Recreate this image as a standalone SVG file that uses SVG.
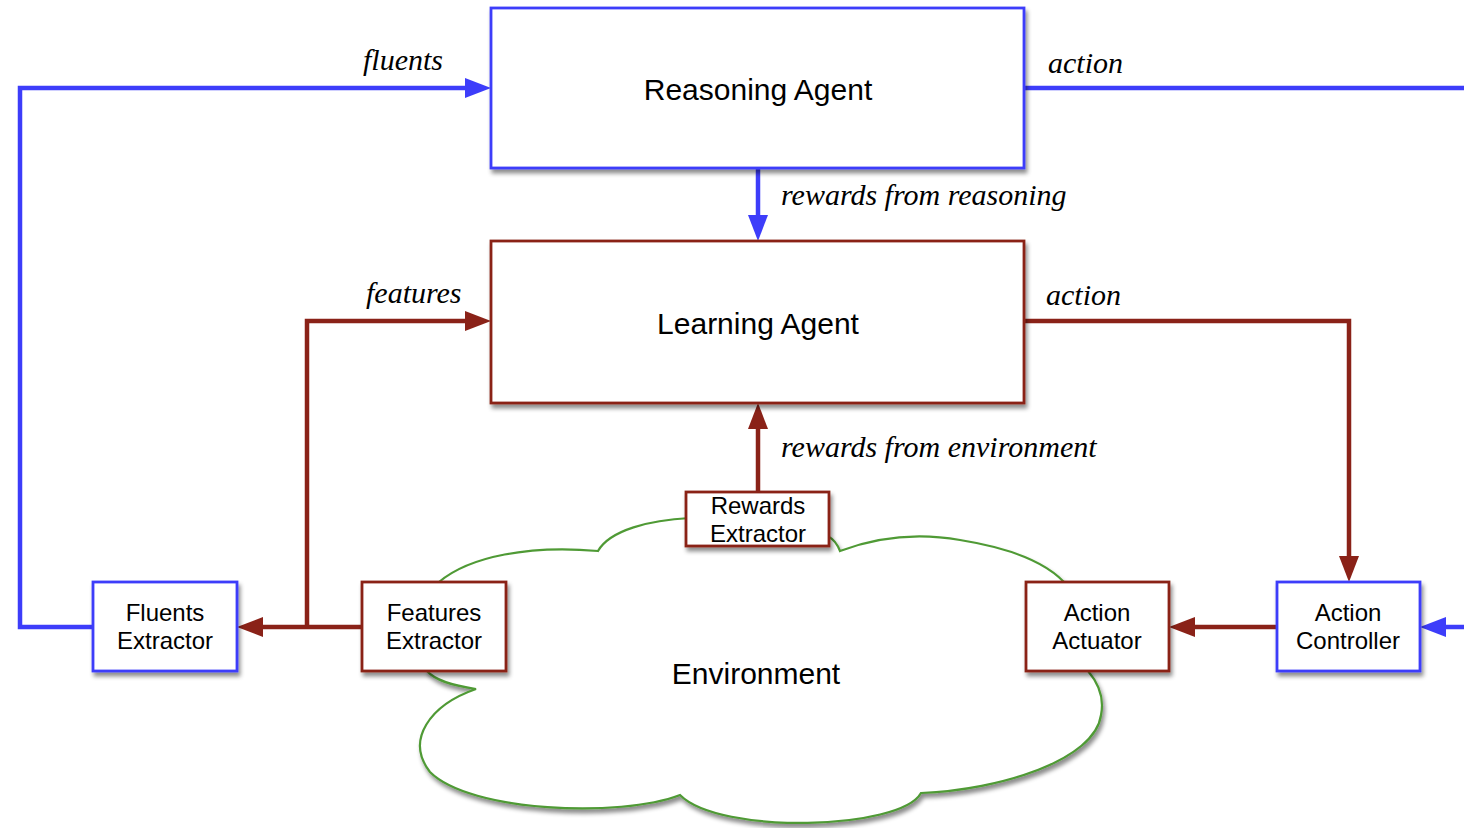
<svg xmlns="http://www.w3.org/2000/svg" width="1464" height="828" viewBox="0 0 1464 828">
  <defs>
    <filter id="shadow" x="-10%" y="-10%" width="130%" height="140%">
      <feDropShadow dx="2" dy="4" stdDeviation="2.2" flood-color="#000" flood-opacity="0.45"/>
    </filter>
    <marker id="arrowBlue" viewBox="0 0 26 20" refX="16" refY="10" markerWidth="26" markerHeight="20" markerUnits="userSpaceOnUse" orient="auto">
      <path d="M0,0 L26,10 L0,20 Z" fill="#3d3dfa"/>
    </marker>
    <marker id="arrowRed" viewBox="0 0 26 20" refX="16" refY="10" markerWidth="26" markerHeight="20" markerUnits="userSpaceOnUse" orient="auto">
      <path d="M0,0 L26,10 L0,20 Z" fill="#8a2218"/>
    </marker>
  </defs>
  <style>
    .blueBox { fill: #fff; stroke: #3d3dfa; stroke-width: 2.8; filter: url(#shadow); }
    .redBox { fill: #fff; stroke: #8a2218; stroke-width: 2.8; filter: url(#shadow); }
    .label { font-family: "Liberation Sans", Arial, sans-serif; fill: #000; text-anchor: middle; }
    .big { font-size: 30px; }
    .small { font-size: 24px; }
    .edgeLabel { font-family: "Liberation Serif", "Times New Roman", serif; font-style: italic; font-size: 30px; fill: #000; }
    .blue { fill: none; stroke: #3d3dfa; stroke-width: 4.5; }
    .red { fill: none; stroke: #8a2218; stroke-width: 4.5; }
  </style>

  <rect width="1464" height="828" fill="#fff"/>

  <!-- Environment cloud -->
  <g id="environment">
    <path d="M 439,582 C 470,556 530,545 598,551 C 610,530 650,520 690,518 L 829,537 C 835,540 838,546 840,551 C 880,536 920,533 960,540 C 1010,548 1045,562 1064,582 L 1088,671 C 1100,685 1104,700 1101,715 C 1095,760 1000,790 921,793 C 900,830 720,835 680,795 C 620,818 470,812 430,772 C 405,740 430,705 476,689 C 450,685 435,680 427,671 Z"
          fill="#fff" stroke="#4f9a35" stroke-width="2.2" filter="url(#shadow)"/>
    <text class="label big" x="756" y="684">Environment</text>
  </g>

  <!-- Connectors -->
  <g id="connectors">
    <path class="blue" d="M 93,627 L 20,627 L 20,88 L 481,88" marker-end="url(#arrowBlue)"/>
    <path class="blue" d="M 1024,88 L 1464,88"/>
    <path class="blue" d="M 1464,627 L 1430,627" marker-end="url(#arrowBlue)"/>
    <path class="blue" d="M 758,168 L 758,231" marker-end="url(#arrowBlue)"/>
    <path class="red" d="M 1024,321 L 1349,321 L 1349,572" marker-end="url(#arrowRed)"/>
    <path class="red" d="M 1277,627 L 1179,627" marker-end="url(#arrowRed)"/>
    <path class="red" d="M 362,627 L 247,627" marker-end="url(#arrowRed)"/>
    <path class="red" d="M 307,627 L 307,321 L 481,321" marker-end="url(#arrowRed)"/>
    <path class="red" d="M 758,492 L 758,413" marker-end="url(#arrowRed)"/>
  </g>

  <!-- Edge labels -->
  <g id="edge-labels">
    <text class="edgeLabel" x="363" y="70">fluents</text>
    <text class="edgeLabel" x="1048" y="73">action</text>
    <text class="edgeLabel" x="781" y="205">rewards from reasoning</text>
    <text class="edgeLabel" x="366" y="303">features</text>
    <text class="edgeLabel" x="1046" y="305">action</text>
    <text class="edgeLabel" x="781" y="457">rewards from environment</text>
  </g>

  <!-- Nodes -->
  <g id="reasoning-agent">
    <rect class="blueBox" x="491" y="8" width="533" height="160"/>
    <text class="label big" x="758" y="100">Reasoning Agent</text>
  </g>
  <g id="learning-agent">
    <rect class="redBox" x="491" y="241" width="533" height="162"/>
    <text class="label big" x="758" y="334">Learning Agent</text>
  </g>
  <g id="rewards-extractor">
    <rect class="redBox" x="686" y="492" width="143" height="54"/>
    <text class="label small" x="758" y="514">Rewards</text>
    <text class="label small" x="758" y="542">Extractor</text>
  </g>
  <g id="fluents-extractor">
    <rect class="blueBox" x="93" y="582" width="144" height="89"/>
    <text class="label small" x="165" y="621">Fluents</text>
    <text class="label small" x="165" y="649">Extractor</text>
  </g>
  <g id="features-extractor">
    <rect class="redBox" x="362" y="582" width="144" height="89"/>
    <text class="label small" x="434" y="621">Features</text>
    <text class="label small" x="434" y="649">Extractor</text>
  </g>
  <g id="action-actuator">
    <rect class="redBox" x="1026" y="582" width="143" height="89"/>
    <text class="label small" x="1097" y="621">Action</text>
    <text class="label small" x="1097" y="649">Actuator</text>
  </g>
  <g id="action-controller">
    <rect class="blueBox" x="1277" y="582" width="143" height="89"/>
    <text class="label small" x="1348" y="621">Action</text>
    <text class="label small" x="1348" y="649">Controller</text>
  </g>
</svg>
